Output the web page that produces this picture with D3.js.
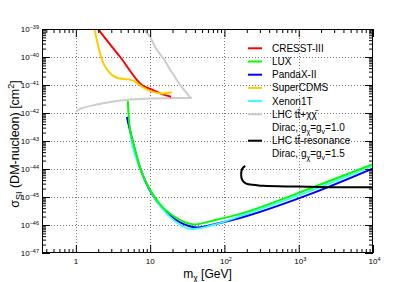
<!DOCTYPE html>
<html>
<head>
<meta charset="utf-8">
<script src="https://cdn.jsdelivr.net/npm/d3@7"></script>
<style>
  html, body { margin: 0; padding: 0; background: #fff; }
  svg { display: block; font-family: "Liberation Sans", Arial, sans-serif; }
</style>
</head>
<body>
<svg id="chart" width="415" height="282"></svg>
<script>
// Limits: [mass in GeV, cross section in cm^2]
const cresst = [[1.9, 1.3e-39], [2.0, 1e-39], [3.95, 1e-40], [7.73, 1e-41], [11.0, 6.6e-42], [14.5, 4.7e-42], [19.2, 3.8e-42]];
const superCdms = [[1.7, 1.6e-39], [1.78, 1e-39], [2.01, 2.3e-40], [2.35, 5.9e-41], [3.05, 2.3e-41], [3.74, 1.74e-41], [5.1, 1.59e-41], [6.28, 1.32e-41], [7.73, 8.7e-42], [10.5, 5.8e-42], [14.4, 5.0e-42], [19.6, 5.5e-42]];
const lhcTtUpper = [[7.3, 1.5e-39], [8.1, 1.05e-39], [10, 5.2e-40], [12.3, 1.8e-40], [15.5, 8e-41], [18.6, 3.5e-41], [25.3, 1e-41], [34.5, 3.6e-42], [36.5, 3.4e-42]];
const lhcTtLower = [[36.5, 3.4e-42], [20, 3.4e-42], [10, 3.3e-42], [3.56, 2.7e-42], [1.9, 2.0e-42], [1.14, 1.4e-42], [1.0, 1.1e-42]];
const lux = [[5.01, 2.7e-42], [5.38, 2.45e-43], [6.28, 4.8e-44], [7.73, 7.1e-45], [10, 1.8e-45], [15.1, 4.0e-46], [25.4, 1.5e-46], [38.3, 1.05e-46], [71, 1.45e-46], [200, 2.95e-46], [1577, 2.24e-45], [10000, 1.5e-44]];
const pandax = [[4.86, 7.2e-43], [5.67, 1.3e-43], [7.33, 1.1e-44], [10.5, 1.3e-45], [15.9, 3.2e-46], [25.3, 1.25e-46], [42.5, 8.2e-47], [71, 1.05e-46], [200, 2.1e-46], [1577, 1.41e-45], [10000, 1.05e-44]];
const xenon1t = [[5.4, 2.0e-43], [5.9, 5.5e-44], [7.57, 8.5e-45], [11.0, 1.1e-45], [18.6, 1.9e-46], [32.8, 7.4e-47], [70.5, 1.0e-46], [200, 2.5e-46], [1577, 1.8e-45], [10000, 1.3e-44]];
const lhcResonance = [[190, 1.29e-44], [173, 1.0e-44], [168, 6.6e-45], [173, 4.1e-45], [196, 3.0e-45], [259, 2.7e-45], [335, 2.5e-45], [943, 2.35e-45], [2650, 2.24e-45], [10000, 2.24e-45]];

const xMajorTicks = [1, 10, 100, 1000, 10000];
const xTickLabels = [["1", ""], ["10", ""], ["10", "2"], ["10", "3"], ["10", "4"]];
const yExponents = [-47, -46, -45, -44, -43, -42, -41, -40, -39];

const legendRows = [
  { label: "CRESST-III", color: "#ff0000" },
  { label: "LUX", color: "#00ff00" },
  { label: "PandaX-II", color: "#0000ff" },
  { label: "SuperCDMS", color: "#ffcc00" },
  { label: "Xenon1T", color: "#33ffff" },
  { label: "LHC tt\u0304+\u03c7\u03c7\u0304", color: "#cccccc" },
  { label: "dirac1", color: null },
  { label: "LHC tt\u0304-resonance", color: "#000000" },
  { label: "dirac2", color: null }
];
const diracCouplings = { dirac1: "1.0", dirac2: "1.5" };

const svg = d3.select("#chart");
const plotLeft = 42, plotRight = 373, plotTop = 29, plotBottom = 253;

const x = d3.scaleLog().domain([0.35, 10000]).range([plotLeft, plotRight]);
const y = d3.scaleLog().domain([1e-47, 1e-39]).range([plotBottom, plotTop]);

// minor ticks for a log axis
function minorTicks(lo, hi) {
  const out = [];
  for (let e = Math.floor(Math.log10(lo)); e <= Math.ceil(Math.log10(hi)); e++) {
    for (let k = 2; k <= 9; k++) {
      const v = k * Math.pow(10, e);
      if (v > lo * 1.0001 && v < hi * 0.9999) out.push(v);
    }
  }
  return out;
}
const xMinor = minorTicks(0.35, 10000);
const yValues = yExponents.map(e => Math.pow(10, e));
const yMinor = minorTicks(1e-47, 1e-39);

// grid
const grid = svg.append("g").attr("stroke", "#777").attr("stroke-width", 1).attr("stroke-dasharray", "1,2");
grid.selectAll(".gx").data(xMajorTicks.slice(0, 4)).join("line")
  .attr("x1", d => Math.round(x(d)) + 0.5).attr("x2", d => Math.round(x(d)) + 0.5)
  .attr("y1", plotTop).attr("y2", plotBottom);
grid.selectAll(".gy").data(yValues.slice(1, 8)).join("line")
  .attr("y1", d => Math.round(y(d)) + 0.5).attr("y2", d => Math.round(y(d)) + 0.5)
  .attr("x1", plotLeft).attr("x2", plotRight);

// curves
svg.append("clipPath").attr("id", "plotclip")
  .append("rect").attr("x", plotLeft).attr("y", plotTop)
  .attr("width", plotRight - plotLeft).attr("height", plotBottom - plotTop);

const curves = svg.append("g").attr("clip-path", "url(#plotclip)").attr("fill", "none").attr("stroke-width", 2);
const smooth = d3.line().x(d => x(d[0])).y(d => y(d[1])).curve(d3.curveCatmullRom.alpha(0.5));
const straight = d3.line().x(d => x(d[0])).y(d => y(d[1]));

curves.append("path").attr("d", straight(lhcTtUpper)).attr("stroke", "#cccccc");
curves.append("path").attr("d", smooth(lhcTtLower)).attr("stroke", "#cccccc");
curves.append("path").attr("d", smooth(cresst)).attr("stroke", "#ff0000");
curves.append("path").attr("d", smooth(superCdms)).attr("stroke", "#ffcc00");
curves.append("path").attr("d", smooth(pandax)).attr("stroke", "#0000ff");
curves.append("path").attr("d", smooth(xenon1t)).attr("stroke", "#33ffff").attr("stroke-width", 1.8);
curves.append("path").attr("d", smooth(lux)).attr("stroke", "#00ff00");
curves.append("path").attr("d", smooth(lhcResonance)).attr("stroke", "#000000");

// frame + ticks (ROOT style, inward)
const frame = svg.append("g");
frame.append("g").attr("transform", `translate(0,${plotBottom})`)
  .call(d3.axisBottom(x).tickValues(xMajorTicks).tickSizeInner(-8).tickSizeOuter(0).tickFormat(""));
frame.append("g").attr("transform", `translate(0,${plotBottom})`)
  .call(d3.axisBottom(x).tickValues(xMinor).tickSizeInner(-4).tickSizeOuter(0).tickFormat(""));
frame.append("g").attr("transform", `translate(0,${plotTop})`)
  .call(d3.axisTop(x).tickValues(xMajorTicks).tickSizeInner(-8).tickSizeOuter(0).tickFormat(""));
frame.append("g").attr("transform", `translate(0,${plotTop})`)
  .call(d3.axisTop(x).tickValues(xMinor).tickSizeInner(-4).tickSizeOuter(0).tickFormat(""));
frame.append("g").attr("transform", `translate(${plotLeft},0)`)
  .call(d3.axisLeft(y).tickValues(yValues).tickSizeInner(-8).tickSizeOuter(0).tickFormat(""));
frame.append("g").attr("transform", `translate(${plotLeft},0)`)
  .call(d3.axisLeft(y).tickValues(yMinor).tickSizeInner(-4).tickSizeOuter(0).tickFormat(""));
frame.append("g").attr("transform", `translate(${plotRight},0)`)
  .call(d3.axisRight(y).tickValues(yValues).tickSizeInner(-8).tickSizeOuter(0).tickFormat(""));
frame.append("g").attr("transform", `translate(${plotRight},0)`)
  .call(d3.axisRight(y).tickValues(yMinor).tickSizeInner(-4).tickSizeOuter(0).tickFormat(""));
frame.selectAll(".domain").remove();
frame.selectAll("line").attr("stroke", "#000").attr("stroke-width", 1);
svg.append("rect").attr("x", plotLeft + 0.5).attr("y", plotTop + 0.5)
  .attr("width", plotRight - plotLeft - 1).attr("height", plotBottom - plotTop - 1)
  .attr("fill", "none").attr("stroke", "#000").attr("stroke-width", 1);

// tick labels
const xl = svg.append("g").attr("font-size", 8).attr("text-anchor", "middle");
xMajorTicks.forEach((v, i) => {
  const t = xl.append("text").attr("x", x(v) + (xTickLabels[i][1] ? 1.5 : 0)).attr("y", 264);
  t.append("tspan").text(xTickLabels[i][0]);
  if (xTickLabels[i][1]) t.append("tspan").attr("dy", -3.5).attr("font-size", 5.5).text(xTickLabels[i][1]);
});
const yl = svg.append("g").attr("font-size", 8).attr("text-anchor", "end");
yExponents.forEach(e => {
  const t = yl.append("text").attr("x", 39).attr("y", y(Math.pow(10, e)) + 3);
  t.append("tspan").text("10");
  t.append("tspan").attr("dy", -3.5).attr("font-size", 5.5).text("\u2212" + Math.abs(e));
});

// axis titles
const xt = svg.append("text").attr("x", (plotLeft + plotRight) / 2).attr("y", 277.5)
  .attr("font-size", 12).attr("text-anchor", "middle");
xt.append("tspan").text("m");
xt.append("tspan").attr("dy", 3).attr("font-size", 8.5).text("\u03c7");
xt.append("tspan").attr("dy", -3).text(" [GeV]");

const yt = svg.append("text").attr("transform", `translate(19,${(plotTop + plotBottom) / 2 + 3}) rotate(-90)`)
  .attr("font-size", 12.5).attr("text-anchor", "middle");
yt.append("tspan").text("\u03c3");
yt.append("tspan").attr("dy", 3).attr("font-size", 9).text("SI");
yt.append("tspan").attr("dy", -3).text(" (DM-nucleon) [cm");
yt.append("tspan").attr("dy", -5).attr("font-size", 9).text("2");
yt.append("tspan").attr("dy", 5).text("]");

// legend
const lg = svg.append("g").attr("font-size", 10);
legendRows.forEach((row, i) => {
  const cy = 48.3 + i * 13.2;
  if (row.color) {
    lg.append("line").attr("x1", 248).attr("x2", 262).attr("y1", cy).attr("y2", cy)
      .attr("stroke", row.color).attr("stroke-width", 2);
  }
  const t = lg.append("text").attr("x", 272).attr("y", cy + 3.5);
  if (diracCouplings[row.label]) {
    t.append("tspan").text("Dirac, g");
    t.append("tspan").attr("dy", 2.5).attr("font-size", 7).text("\u03c7");
    t.append("tspan").attr("dy", -2.5).text("=g");
    t.append("tspan").attr("dy", 2.5).attr("font-size", 7).text("v");
    t.append("tspan").attr("dy", -2.5).text("=" + diracCouplings[row.label]);
  } else {
    t.text(row.label);
  }
});
</script>
</body>
</html>
